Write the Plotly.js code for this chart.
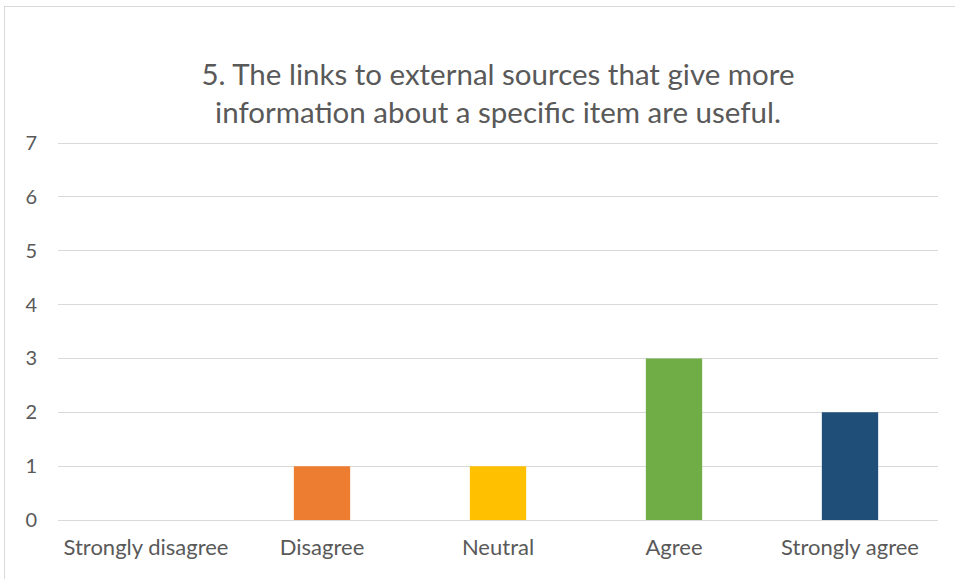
<!DOCTYPE html>
<html>
<head>
<meta charset="utf-8">
<script src="https://cdn.plot.ly/plotly-3.0.1.min.js"></script>
<style>
  html, body { margin: 0; padding: 0; background: #fff; }
  #wrap { position: relative; width: 955px; height: 579px; overflow: hidden; }
  #chart { width: 955px; height: 579px; }
  #frame { position: absolute; left: 4px; top: 6px; width: 1000px; height: 700px;
           border-left: 1px solid #d9d9d9; border-top: 1px solid #d9d9d9; pointer-events: none; }
</style>
</head>
<body>
<div id="wrap"><div id="chart"></div><div id="frame"></div></div>
<script>
const categories = ["Strongly disagree", "Disagree", "Neutral", "Agree", "Strongly agree"];
const counts = [0, 1, 1, 3, 2];
const barColors = ["#5B9BD5", "#ED7D31", "#FFC000", "#70AD47", "#1F4E79"];
const yTicks = [0, 1, 2, 3, 4, 5, 6, 7];
const titleText = "5. The links to external sources that give more<br>information about a specific item are useful.";

const font = "Lato, 'Open Sans', sans-serif";

Plotly.newPlot("chart", [{
  type: "bar",
  x: categories,
  y: counts,
  marker: { color: barColors },
  width: 0.32,
  hoverinfo: "x+y"
}], {
  width: 955,
  height: 579,
  margin: { l: 58, r: 17, t: 140, b: 59 },
  paper_bgcolor: "#ffffff",
  plot_bgcolor: "#ffffff",
  showlegend: false,
  title: {
    text: titleText,
    font: { family: font, size: 29.5, color: "#595959" },
    x: 0.5, xanchor: "center",
    y: 1 - 85 / 579, yanchor: "middle",
    xref: "paper", yref: "container"
  },
  xaxis: {
    type: "category",
    tickfont: { family: font, size: 22, color: "#595959" },
    showgrid: false,
    showline: false,
    zeroline: false,
    ticks: "",
    ticklabelstandoff: 12,
    fixedrange: true
  },
  yaxis: {
    range: [0, 7.0557],
    tickvals: yTicks,
    ticktext: yTicks.map(String),
    tickfont: { family: font, size: 20, color: "#595959" },
    showgrid: true,
    gridcolor: "#d9d9d9",
    gridwidth: 1,
    zeroline: true,
    zerolinecolor: "#d9d9d9",
    zerolinewidth: 1,
    showline: false,
    ticks: "",
    ticklabelstandoff: 20,
    fixedrange: true
  }
}, { displayModeBar: false, staticPlot: true });
</script>
</body>
</html>
